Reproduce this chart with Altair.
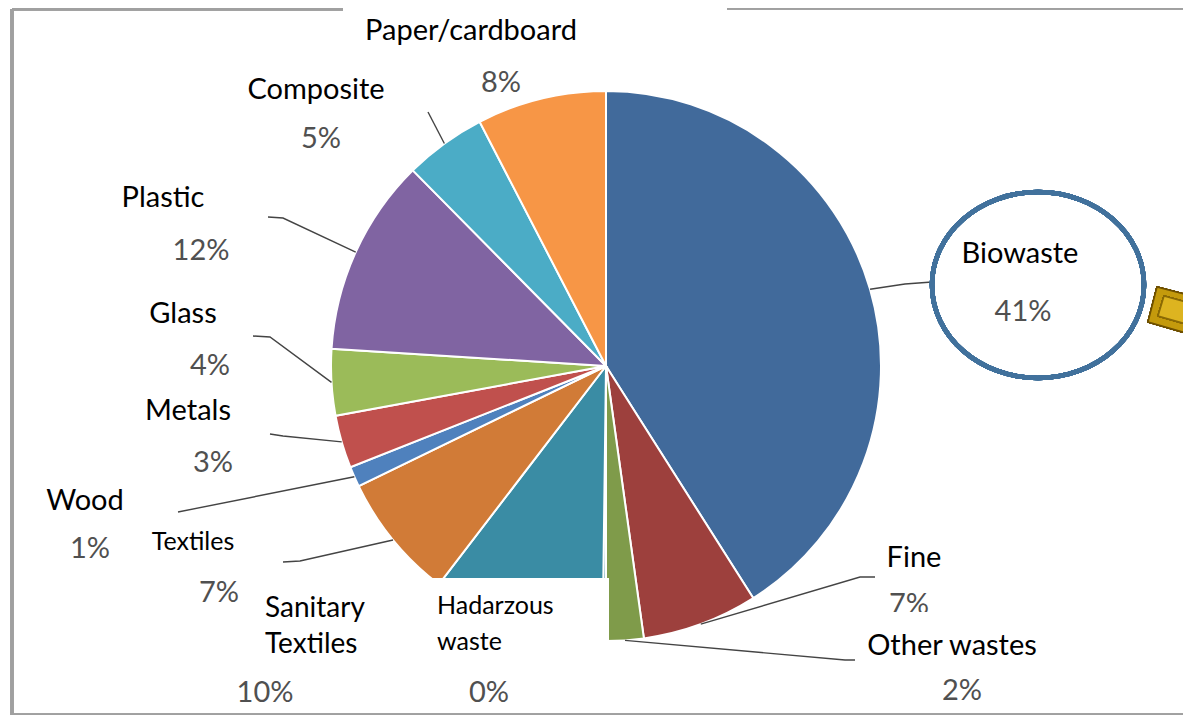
import math
import altair as alt
import pandas as pd

# ---------------- data ----------------
categories = ["Biowaste", "Fine", "Other wastes", "Hadarzous waste", "Sanitary Textiles",
              "Textiles", "Wood", "Metals", "Glass", "Plastic", "Composite", "Paper/cardboard"]
values = [41.0, 6.8, 2.2, 0.2, 10.2, 7.4, 1.2, 3.1, 3.9, 11.6, 4.8, 7.6]
display_names = ["Biowaste", "Fine", "Other wastes", "Hadarzous\nwaste", "Sanitary\nTextiles",
                 "Textiles", "Wood", "Metals", "Glass", "Plastic", "Composite", "Paper/cardboard"]
colors = ["#416A9B", "#9D403D", "#7F9B4A", "#2E7E96", "#3A8CA4", "#D17B37",
          "#4F81BD", "#C0504D", "#9BBB59", "#8064A2", "#4BACC6", "#F79646"]

# ---------------- layout (image pixel coords) ----------------
OFF = 8
W, H = 1175, 707
CX, CY, R = 606, 366, 275

LAYOUT = {
    "Biowaste":          dict(nx=1020, ny=263, al="center", fs=29, px=1023, py=321, lead=[(932, 282), (905, 284)]),
    "Fine":              dict(nx=914, ny=567, al="center", fs=29, px=909, py=614, lead=[(875, 577), (860, 577)]),
    "Other wastes":      dict(nx=952, ny=655, al="center", fs=29, px=962, py=700, lead=[(855, 660), (845, 660)]),
    "Hadarzous waste":   dict(nx=437, ny=614, al="left", fs=25, px=489, py=702, lead=[]),
    "Sanitary Textiles": dict(nx=265, ny=617, al="left", fs=28, px=265, py=702, lead=[]),
    "Textiles":          dict(nx=193, ny=550, al="center", fs=25, px=219, py=602, lead=[(283, 562), (300, 561)]),
    "Wood":              dict(nx=85, ny=510, al="center", fs=29, px=90, py=558, lead=[(178, 512)]),
    "Metals":            dict(nx=188, ny=420, al="center", fs=29, px=213, py=472, lead=[(270, 434), (283, 436)]),
    "Glass":             dict(nx=183, ny=323, al="center", fs=29, px=210, py=375, lead=[(253, 336), (270, 337)]),
    "Plastic":           dict(nx=163, ny=207, al="center", fs=29, px=201, py=260, lead=[(268, 217), (283, 218)]),
    "Composite":         dict(nx=316, ny=99, al="center", fs=29, px=321, py=148, lead=[(428, 112)]),
    "Paper/cardboard":   dict(nx=471, ny=40, al="center", fs=29, px=501, py=92, lead=[]),
}

# ---------------- tables ----------------
pie_df = pd.DataFrame({"category": categories, "value": values, "idx": range(len(categories))})

total = sum(values)
lab_rows, lead_rows = [], []
cum = 0.0
for cat, name, v in zip(categories, display_names, values):
    L = LAYOUT[cat]
    mid = 2 * math.pi * (cum + v / 2) / total
    cum += v
    lab_rows.append(dict(category=cat, name=name, pct=f"{round(v)}%", al=L["al"], fs=L["fs"],
                         nx=L["nx"] - OFF, ny=L["ny"] - OFF, px=L["px"] - OFF, py=L["py"] - OFF))
    if L["lead"]:
        pts = list(L["lead"]) + [(CX + R * math.sin(mid), CY - R * math.cos(mid))]
        for i, (x, y) in enumerate(pts):
            lead_rows.append(dict(category=cat, seq=i, lx=x - OFF, ly=y - OFF))
lab_df = pd.DataFrame(lab_rows)
lead_df = pd.DataFrame(lead_rows)

FONT = "Lato"
X = lambda f: alt.X(f, scale=None, axis=None)
Y = lambda f: alt.Y(f, scale=None, axis=None)

pie = alt.Chart(pie_df).mark_arc(radius=R, stroke="white", strokeWidth=2).encode(
    theta=alt.Theta("value:Q", stack=True),
    order=alt.Order("idx:Q"),
    color=alt.Color("category:N", scale=alt.Scale(domain=categories, range=colors), legend=None),
    x=alt.value(CX - OFF), y=alt.value(CY - OFF),
)

leaders = alt.Chart(lead_df).mark_line(color="#444444", strokeWidth=1.4).encode(
    x=X("lx:Q"), y=Y("ly:Q"), detail="category:N", order="seq:Q")


def box(x1, x2, y1, y2):
    return alt.Chart(pie_df).mark_rect(color="white").encode(
        x=alt.value(x1 - OFF), x2=alt.value(x2 - OFF), y=alt.value(y1 - OFF), y2=alt.value(y2 - OFF))


def rule(x1, x2, y1, y2, color="#A0A0A0", w=2.5):
    return alt.Chart(pie_df).mark_rule(color=color, strokeWidth=w).encode(
        x=alt.value(x1 - OFF), x2=alt.value(x2 - OFF), y=alt.value(y1 - OFF), y2=alt.value(y2 - OFF))


bottom_box = box(245, 609, 578, 664)
fine_box = box(862, 1060, 612, 640)

names_center = alt.Chart(lab_df[lab_df.al == "center"]).mark_text(
    font=FONT, color="#000000", align="center", baseline="alphabetic").encode(
    x=X("nx:Q"), y=Y("ny:Q"), text="name:N",
    size=alt.Size("fs:Q", scale=None, legend=None))
names_left = alt.Chart(lab_df[lab_df.al == "left"]).mark_text(
    font=FONT, color="#000000", align="left", baseline="alphabetic", lineBreak="\n", lineHeight=36).encode(
    x=X("nx:Q"), y=Y("ny:Q"), text="name:N",
    size=alt.Size("fs:Q", scale=None, legend=None))
pcts = alt.Chart(lab_df).mark_text(
    font=FONT, color="#505050", align="center", baseline="alphabetic", fontSize=29).encode(
    x=X("px:Q"), y=Y("py:Q"), text="pct:N")

# ellipse highlight around Biowaste label
k = 0.5523
rx, ry = 106, 93
ell = (f"M {rx} 0 C {rx} {k*ry:.1f} {k*rx:.1f} {ry} 0 {ry} "
       f"C {-k*rx:.1f} {ry} {-rx} {k*ry:.1f} {-rx} 0 "
       f"C {-rx} {-k*ry:.1f} {-k*rx:.1f} {-ry} 0 {-ry} "
       f"C {k*rx:.1f} {-ry} {rx} {-k*ry:.1f} {rx} 0 Z")
ellipse = alt.Chart(pie_df).mark_point(shape=ell, size=4, filled=False, color="#41719C",
                                       strokeWidth=4.5, opacity=1).encode(
    x=alt.value(1038 - OFF), y=alt.value(285 - OFF))

# gold arrow stub at right edge
arrow_outer = "M 1157 287 L 1200 298 L 1200 337 L 1148 322 Z"
arrow_inner = "M 1164 296 L 1200 306 L 1200 328 L 1158 316 Z"


def shift(path):
    out = []
    toks = path.split()
    i = 0
    while i < len(toks):
        t = toks[i]
        if t in ("M", "L"):
            out += [t, str(float(toks[i + 1]) - 1150), str(float(toks[i + 2]) - 310)]
            i += 3
        else:
            out.append(t)
            i += 1
    return " ".join(out)


arrow1 = alt.Chart(pie_df).mark_point(shape=shift(arrow_outer), size=4, filled=True, fill="#C49A0C",
                                      stroke="#6E5000", strokeWidth=1.5, opacity=1).encode(
    x=alt.value(1150 - OFF), y=alt.value(310 - OFF))
arrow2 = alt.Chart(pie_df).mark_point(shape=shift(arrow_inner), size=4, filled=True, fill="#DDB420",
                                      stroke="#8A6A05", strokeWidth=1.5, opacity=1).encode(
    x=alt.value(1150 - OFF), y=alt.value(310 - OFF))

frame = [
    rule(12, 12, 9, 716),
    rule(12, 1191, 715, 715),
    rule(12, 343, 9, 9),
    rule(727, 1191, 8, 8),
]

chart = alt.layer(
    pie, leaders, bottom_box, pcts, fine_box, names_center, names_left,
    ellipse, arrow1, arrow2, *frame
).properties(
    width=W, height=H, padding=0, autosize=alt.AutoSizeParams(type="none"),
    background="white",
).configure_view(stroke=None)

chart.save("out.html", embed_options={"renderer": "svg", "actions": False})
